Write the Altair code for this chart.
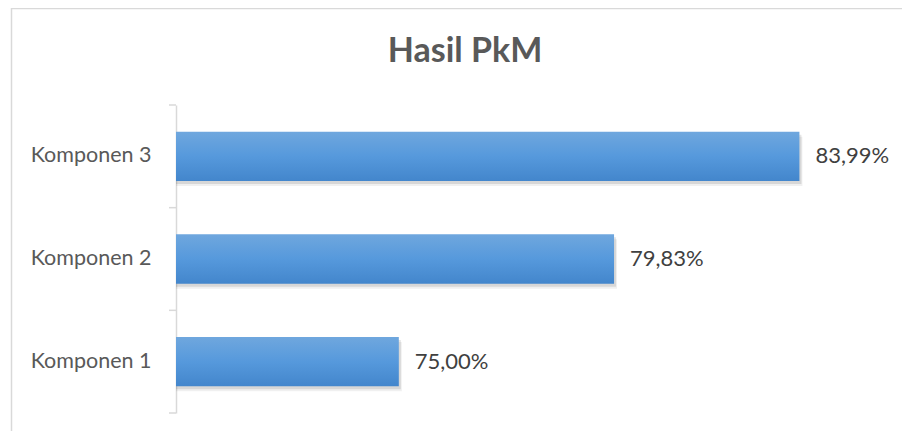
import altair as alt
import pandas as pd

categories = ["Komponen 1", "Komponen 2", "Komponen 3"]
values = [75.00, 79.83, 83.99]
value_labels = ["75,00%", "79,83%", "83,99%"]
title_text = "Hasil PkM"
axis_min = 70
axis_max = 86

df = pd.DataFrame({"cat": categories, "value": values, "label": value_labels})

W, H = 713, 308
STEP = H / len(categories)
FONT = "Lato"

xscale = alt.Scale(domain=[axis_min, axis_max], zero=False, nice=False)
yscale = alt.Scale(paddingInner=0.52, paddingOuter=0.26)
order = list(reversed(categories))

yaxis = alt.Axis(
    domainColor="#d9d9d9", domainWidth=1.5, ticks=False,
    labelPadding=25, labelFontSize=21.5, labelColor="#595959",
    labelFont=FONT, grid=False,
)

base = alt.Chart(df)

gradient = alt.Gradient(
    gradient="linear",
    stops=[
        alt.GradientStop(color="#6fa7de", offset=0),
        alt.GradientStop(color="#5699dc", offset=0.5),
        alt.GradientStop(color="#4386cc", offset=1),
    ],
    x1=0, x2=0, y1=0, y2=1,
)

ycat = alt.Y("cat:N", sort=order, scale=yscale, title=None, axis=yaxis)

shadow2 = base.mark_bar(color="#000000", opacity=0.06, xOffset=3, yOffset=5).encode(
    y=ycat, x=alt.X("value:Q", scale=xscale, axis=None), x2=alt.datum(axis_min),
)
shadow1 = base.mark_bar(color="#000000", opacity=0.10, xOffset=2, yOffset=3).encode(
    y=ycat, x=alt.X("value:Q", scale=xscale, axis=None), x2=alt.datum(axis_min),
)

bars = base.mark_bar(color=gradient).encode(
    y=ycat, x=alt.X("value:Q", scale=xscale, axis=None), x2=alt.datum(axis_min),
)

texts = base.mark_text(align="left", baseline="middle", dx=16, fontSize=22,
                       font=FONT, color="#404040").encode(
    y=ycat, x=alt.X("value:Q", scale=xscale, axis=None), text="label:N",
)

# category boundary ticks (top of each category step)
ticks = base.mark_rule(color="#d9d9d9", strokeWidth=1.5, yOffset=-STEP / 2).encode(
    y=ycat, x=alt.value(-7), x2=alt.value(0),
)

one = alt.Data(values=[{}])

bottom_tick = alt.Chart(one).mark_rule(color="#d9d9d9", strokeWidth=1.5).encode(
    x=alt.value(-7), x2=alt.value(0), y=alt.value(H),
)

title = alt.Chart(alt.Data(values=[{"t": title_text}])).mark_text(
    fontSize=34, fontWeight="bold", font=FONT, color="#595959",
    align="center", baseline="middle",
).encode(x=alt.value(289), y=alt.value(-53), text="t:N")

border_top = alt.Chart(one).mark_rule(color="#d9d9d9", strokeWidth=1.5).encode(
    x=alt.value(-165), x2=alt.value(740), y=alt.value(-96.5)
)
border_left = alt.Chart(one).mark_rule(color="#d9d9d9", strokeWidth=1.5).encode(
    x=alt.value(-164.5), y=alt.value(-97), y2=alt.value(340)
)

chart = alt.layer(
    shadow2, shadow1, bars, texts, ticks, bottom_tick, title, border_top, border_left
).properties(
    width=W, height=H,
    padding={"left": 168, "top": 97, "right": 13, "bottom": 18},
    autosize=alt.AutoSizeParams(type="none"),
    background="white",
).configure_view(stroke=None)

chart.save("out.html", embed_options={"renderer": "svg", "actions": False})
